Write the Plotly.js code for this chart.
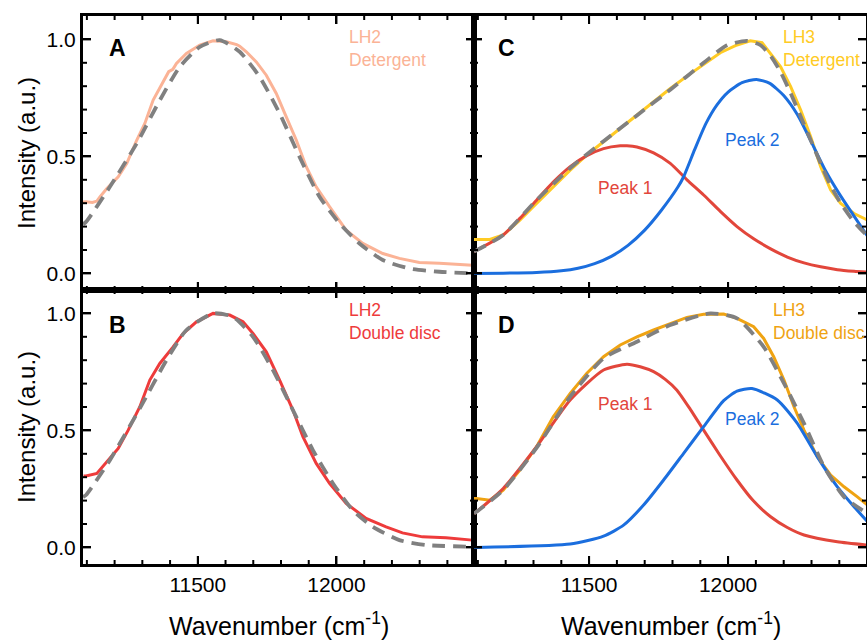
<!DOCTYPE html>
<html>
<head>
<meta charset="utf-8">
<script src="https://cdn.plot.ly/plotly-3.0.1.min.js"></script>
<style>html,body{margin:0;padding:0;background:#fff;}#chart{width:867px;height:641px;}</style>
</head>
<body>
<div id="chart"></div>
<script>
// ---------- DATA ----------
// Panel A: LH2 in detergent
const xA_data = [11086,11097,11120,11136,11147,11172,11213,11244,11280,11309,11339,11375,11395,11410,11423,11459,11507,11555,11603,11640,11651,11675,11711,11747,11783,11819,11855,11891,11927,11975,12035,12095,12167,12227,12299,12371,12490];
const yA_data = [0.305,0.306,0.303,0.309,0.327,0.363,0.413,0.47,0.57,0.641,0.741,0.819,0.862,0.872,0.897,0.94,0.976,0.994,0.99,0.978,0.971,0.947,0.904,0.847,0.769,0.669,0.57,0.456,0.37,0.285,0.185,0.128,0.085,0.064,0.047,0.043,0.035];
const xA_fit = [11086,11097,11183,11280,11363,11435,11507,11579,11651,11723,11795,11867,11939,12011,12083,12167,12263,12371,12490];
const yA_fit = [0.21,0.22,0.37,0.556,0.74,0.883,0.968,0.997,0.947,0.84,0.684,0.498,0.327,0.214,0.128,0.057,0.021,0.007,0.0];

// Panel B: LH2 in double disc
const xB_data = [11088,11097,11136,11172,11213,11249,11291,11327,11363,11411,11447,11495,11555,11615,11663,11699,11747,11795,11843,11879,11927,11975,12035,12107,12179,12238,12310,12395,12490];
const yB_data = [0.305,0.305,0.316,0.366,0.423,0.501,0.601,0.715,0.786,0.857,0.914,0.964,1.0,0.993,0.964,0.914,0.836,0.715,0.587,0.473,0.359,0.274,0.188,0.124,0.088,0.062,0.045,0.041,0.031];
const xB_fit = [11086,11097,11183,11291,11387,11459,11555,11627,11699,11771,11843,11915,11987,12059,12131,12227,12323,12490];
const yB_fit = [0.215,0.224,0.373,0.594,0.8,0.929,1.0,0.985,0.9,0.758,0.587,0.416,0.274,0.159,0.088,0.031,0.01,0.003];

// Panel C: LH3 in detergent
const xC_data = [11086,11095,11143,11191,11251,11311,11371,11432,11492,11552,11612,11672,11732,11792,11852,11912,11972,12032,12080,12122,12153,12189,12225,12261,12297,12333,12369,12405,12453,12501];
const yC_data = [0.145,0.145,0.145,0.164,0.228,0.299,0.370,0.441,0.506,0.563,0.620,0.677,0.733,0.790,0.843,0.894,0.943,0.976,0.994,0.986,0.940,0.883,0.798,0.698,0.584,0.456,0.356,0.299,0.256,0.228];
const xC_fit = [11086,11191,11311,11432,11552,11672,11792,11912,11996,12068,12117,12153,12189,12225,12261,12297,12333,12369,12405,12453,12501];
const yC_fit = [0.093,0.164,0.313,0.45,0.565,0.675,0.785,0.9,0.975,0.994,0.975,0.93,0.86,0.77,0.67,0.57,0.47,0.375,0.30,0.22,0.16];
const xC_peak1 = [11086,11191,11251,11311,11371,11432,11492,11552,11612,11636,11672,11732,11792,11852,11912,11972,12032,12092,12153,12213,12273,12333,12393,12453,12501];
const yC_peak1 = [0.093,0.164,0.235,0.313,0.39,0.456,0.503,0.533,0.545,0.545,0.54,0.515,0.47,0.40,0.335,0.265,0.20,0.148,0.105,0.07,0.045,0.028,0.016,0.009,0.005];
const xC_peak2 = [11086,11191,11311,11400,11460,11520,11580,11640,11700,11760,11820,11840,11880,11920,11960,12000,12050,12102,12150,12200,12250,12300,12350,12400,12450,12501];
const yC_peak2 = [0.0,0.001,0.004,0.011,0.022,0.042,0.073,0.12,0.185,0.27,0.37,0.413,0.53,0.64,0.72,0.775,0.815,0.829,0.812,0.76,0.677,0.56,0.44,0.34,0.25,0.16];

// Panel D: LH3 in double disc
const xD_data = [11086,11095,11143,11191,11251,11311,11371,11432,11492,11552,11612,11672,11732,11792,11852,11912,11984,12032,12092,12128,12164,12201,12237,12273,12321,12369,12417,12465,12501];
const yD_data = [0.209,0.209,0.202,0.245,0.330,0.430,0.558,0.658,0.744,0.815,0.865,0.900,0.929,0.957,0.983,0.996,0.997,0.979,0.943,0.893,0.815,0.715,0.601,0.501,0.387,0.309,0.259,0.216,0.181];
const xD_fit = [11086,11095,11191,11311,11432,11552,11672,11792,11936,12032,12128,12201,12273,12345,12417,12501];
const yD_fit = [0.145,0.152,0.245,0.425,0.644,0.808,0.879,0.950,1.0,0.979,0.857,0.701,0.530,0.345,0.216,0.145];
const xD_peak1 = [11086,11095,11191,11311,11432,11552,11636,11684,11732,11774,11816,11864,11912,11970,12032,12090,12153,12213,12273,12393,12501];
const yD_peak1 = [0.145,0.152,0.252,0.430,0.630,0.758,0.783,0.772,0.751,0.718,0.672,0.59,0.501,0.395,0.288,0.20,0.131,0.085,0.053,0.024,0.010];
const xD_peak2 = [11086,11095,11432,11552,11624,11696,11768,11840,11912,11984,12032,12086,12177,12249,12321,12393,12453,12501];
const yD_peak2 = [0.0,0.0,0.014,0.048,0.095,0.181,0.288,0.402,0.516,0.627,0.668,0.679,0.630,0.530,0.387,0.259,0.174,0.110];

// Ticks
const xTickVals = [11500, 12000];
const xMinorVals = [11100,11200,11300,11400,11600,11700,11800,11900,12100,12200,12300,12400];
const yTickVals = [0.0, 0.5, 1.0];
const yMinorVals = [0.1,0.2,0.3,0.4,0.6,0.7,0.8,0.9];

// Text
const panelLetters = ['A','B','C','D'];
const sampleLabels = ['LH2<br>Detergent','LH2<br>Double disc','LH3<br>Detergent','LH3<br>Double disc'];
const peakLabels = ['Peak 1','Peak 2'];
const xTitle = 'Wavenumber (cm<sup>-1</sup>)';
const yTitle = 'Intensity (a.u.)';

// ---------- STYLE ----------
const W = 867, H = 641;
const FONT = 'Liberation Sans, Arial, Helvetica, sans-serif';
const C_PEACH = '#FBB396', C_RED = '#EE3B3B', C_YEL = '#FFCB24', C_ORA = '#EFA312';
const C_P1 = '#E2463B', C_P2 = '#1B6EDE', C_FIT = '#808080';
const px = v => v / W, py = v => 1 - v / H;

const XL = [px(83), px(474)], XR = [px(474), px(866)];
const YT = [py(290), py(16)], YB = [py(564), py(290)];
const XRANGE = [11086, 12496], YRANGE = [-0.071, 1.1];

function line(x, y, color, xa, ya, width, dash, shape) {
  return {x: x, y: y, xaxis: xa, yaxis: ya, type: 'scatter', mode: 'lines',
    line: {color: color, width: width, dash: dash || 'solid', shape: shape || 'linear', smoothing: 0.6},
    hoverinfo: 'skip', showlegend: false};
}
const FIT_DASH = '13px,8px';
const traces = [
  line(xA_data, yA_data, C_PEACH, 'x', 'y', 3),
  line(xA_fit, yA_fit, C_FIT, 'x', 'y', 3.8, FIT_DASH, 'spline'),
  line(xB_data, yB_data, C_RED, 'x2', 'y2', 3),
  line(xB_fit, yB_fit, C_FIT, 'x2', 'y2', 3.8, FIT_DASH, 'spline'),
  line(xC_data, yC_data, C_YEL, 'x3', 'y3', 3),
  line(xC_peak1, yC_peak1, C_P1, 'x3', 'y3', 3, 'solid', 'spline'),
  line(xC_peak2, yC_peak2, C_P2, 'x3', 'y3', 3, 'solid', 'spline'),
  line(xC_fit, yC_fit, C_FIT, 'x3', 'y3', 3.8, FIT_DASH, 'spline'),
  line(xD_data, yD_data, C_ORA, 'x4', 'y4', 3),
  line(xD_peak1, yD_peak1, C_P1, 'x4', 'y4', 3, 'solid', 'spline'),
  line(xD_peak2, yD_peak2, C_P2, 'x4', 'y4', 3, 'solid', 'spline'),
  line(xD_fit, yD_fit, C_FIT, 'x4', 'y4', 3.8, FIT_DASH, 'spline')
];

// Inside tick marks on all four sides of each panel, drawn as short line traces
// at the tick values; lengths in pixels converted with each axis' scale.
const MAJ = 8, MIN = 4;
function tickTrace(xa, ya, xdom, ydom, len, xv, yv) {
  const xPerPx = (XRANGE[1] - XRANGE[0]) / ((xdom[1] - xdom[0]) * W);
  const yPerPx = (YRANGE[1] - YRANGE[0]) / ((ydom[1] - ydom[0]) * H);
  const dx = len * xPerPx, dy = len * yPerPx;
  const X = [], Y = [];
  xv.forEach(v => { X.push(v, v, null, v, v, null); Y.push(YRANGE[0], YRANGE[0] + dy, null, YRANGE[1], YRANGE[1] - dy, null); });
  yv.forEach(v => { X.push(XRANGE[0], XRANGE[0] + dx, null, XRANGE[1], XRANGE[1] - dx, null); Y.push(v, v, null, v, v, null); });
  return {x: X, y: Y, xaxis: xa, yaxis: ya, type: 'scatter', mode: 'lines',
    line: {color: '#000', width: 2}, hoverinfo: 'skip', showlegend: false};
}
[['x', 'y', XL, YT], ['x2', 'y2', XL, YB], ['x3', 'y3', XR, YT], ['x4', 'y4', XR, YB]].forEach(p => {
  traces.push(tickTrace(p[0], p[1], p[2], p[3], MAJ, xTickVals, yTickVals));
  traces.push(tickTrace(p[0], p[1], p[2], p[3], MIN, xMinorVals, yMinorVals));
});

function xax(domain, anchor, labels) {
  return {domain: domain, anchor: anchor, range: XRANGE, showgrid: false, zeroline: false,
    showline: true, linecolor: '#000', linewidth: 3, mirror: 'allticks',
    ticks: 'inside', ticklen: MAJ, tickwidth: 2, tickcolor: '#000',
    tickmode: 'array', tickvals: xTickVals, ticktext: xTickVals.map(String),
    showticklabels: labels, tickfont: {family: FONT, size: 21, color: '#000'},
    fixedrange: true};
}
function yax(domain, anchor, labels) {
  return {domain: domain, anchor: anchor, range: YRANGE, showgrid: false, zeroline: false,
    showline: true, linecolor: '#000', linewidth: 3, mirror: 'allticks',
    ticks: 'inside', ticklen: MAJ, tickwidth: 2, tickcolor: '#000',
    tickmode: 'array', tickvals: yTickVals, ticktext: yTickVals.map(v => v.toFixed(1)),
    showticklabels: labels, tickfont: {family: FONT, size: 21, color: '#000'},
    fixedrange: true};
}

function ann(text, x, y, opts) {
  return Object.assign({text: text, x: px(x), y: py(y), xref: 'paper', yref: 'paper',
    showarrow: false, xanchor: 'center', yanchor: 'middle',
    font: {family: FONT, size: 17.5, color: '#000'}}, opts || {});
}
const LF = {family: FONT, size: 23, color: '#000'};
const annotations = [
  ann('<b>' + panelLetters[0] + '</b>', 117, 48, {font: LF}),
  ann('<b>' + panelLetters[1] + '</b>', 117, 325, {font: LF}),
  ann('<b>' + panelLetters[2] + '</b>', 506, 48, {font: LF}),
  ann('<b>' + panelLetters[3] + '</b>', 506, 325, {font: LF}),
  ann(sampleLabels[0], 347, 49, {xanchor: 'left', align: 'left', font: {family: FONT, size: 17.5, color: C_PEACH}}),
  ann(sampleLabels[1], 347, 322, {xanchor: 'left', align: 'left', font: {family: FONT, size: 17.5, color: C_RED}}),
  ann(sampleLabels[2], 781, 49, {xanchor: 'left', align: 'left', font: {family: FONT, size: 17.5, color: C_YEL}}),
  ann(sampleLabels[3], 771, 322, {xanchor: 'left', align: 'left', font: {family: FONT, size: 17.5, color: C_ORA}}),
  ann(peakLabels[0], 625, 188, {font: {family: FONT, size: 17.5, color: C_P1}}),
  ann(peakLabels[1], 752, 140, {font: {family: FONT, size: 17.5, color: C_P2}}),
  ann(peakLabels[0], 625, 404, {font: {family: FONT, size: 17.5, color: C_P1}}),
  ann(peakLabels[1], 752, 419, {font: {family: FONT, size: 17.5, color: C_P2}}),
  ann(yTitle, 26, 153, {textangle: -90, font: {family: FONT, size: 24, color: '#000'}}),
  ann(yTitle, 26, 427, {textangle: -90, font: {family: FONT, size: 24, color: '#000'}}),
  ann(xTitle, 279, 624, {font: {family: FONT, size: 25, color: '#000'}}),
  ann(xTitle, 671, 624, {font: {family: FONT, size: 25, color: '#000'}})
];

const layout = {
  width: W, height: H, margin: {l: 0, r: 0, t: 0, b: 0},
  paper_bgcolor: '#fff', plot_bgcolor: 'rgba(0,0,0,0)', showlegend: false,
  xaxis: xax(XL, 'y', false), yaxis: yax(YT, 'x', true),
  xaxis2: xax(XL, 'y2', true), yaxis2: yax(YB, 'x2', true),
  xaxis3: xax(XR, 'y3', false), yaxis3: yax(YT, 'x3', false),
  xaxis4: xax(XR, 'y4', true), yaxis4: yax(YB, 'x4', false),
  annotations: annotations
};
Plotly.newPlot('chart', traces, layout, {displayModeBar: false});
</script>
</body>
</html>
